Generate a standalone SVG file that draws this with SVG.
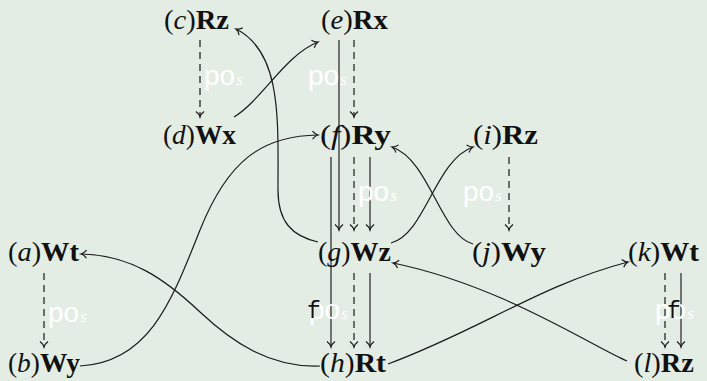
<svg xmlns="http://www.w3.org/2000/svg" width="707" height="381" viewBox="0 0 707 381">
<style>
.bg{fill:#e4ede4}
.n{font-family:"Liberation Serif",serif;font-size:28px;fill:#111}
.i{font-style:italic}
.b{font-weight:bold}
.e{fill:none;stroke:#1a1a1a;stroke-width:1.2}
.v{fill:none;stroke:#4a4a4a;stroke-width:1.5}
.d{fill:none;stroke:#1a1a1a;stroke-width:1.2;stroke-dasharray:7 5}
.po{font-family:"Liberation Sans",sans-serif;font-size:28px;fill:#fff}
.s{font-family:"Liberation Serif",serif;font-style:italic;font-size:17px;fill:#fff}
.f{font-family:"Liberation Mono",monospace;font-size:23px;fill:#111}
</style>
<defs>
<marker id="ah" markerUnits="userSpaceOnUse" markerWidth="12" markerHeight="12" viewBox="-7 -6 8 12" refX="0" refY="0" orient="auto">
<path d="M-5.5,-4 C-3.5,-1.5 -1.5,-0.4 0,0 C-1.5,0.4 -3.5,1.5 -5.5,4" fill="none" stroke="#1a1a1a" stroke-width="1.2"/>
</marker>
</defs>
<rect class="bg" x="0" y="0" width="707" height="381"/>
<g id="connectors">
<path class="d" d="M200,40 V117" marker-end="url(#ah)"/>
<path class="d" d="M354,40 V117" marker-end="url(#ah)"/>
<path class="v" d="M339,40 V230" marker-end="url(#ah)"/>
<path class="v" d="M331,157 V347" marker-end="url(#ah)"/>
<path class="d" d="M354,157 V230" marker-end="url(#ah)"/>
<path class="v" d="M370,157 V230" marker-end="url(#ah)"/>
<path class="d" d="M509,157 V230" marker-end="url(#ah)"/>
<path class="d" d="M354,273 V347" marker-end="url(#ah)"/>
<path class="v" d="M370,273 V347" marker-end="url(#ah)"/>
<path class="d" d="M44,273 V347" marker-end="url(#ah)"/>
<path class="d" d="M665,273 V347" marker-end="url(#ah)"/>
<path class="v" d="M681,273 V347" marker-end="url(#ah)"/>
<path class="e" d="M234,117 C262,100 285,55 318,42" marker-end="url(#ah)"/>
<path class="e" d="M318,242 C292,236 278,222 278,190 C278,120 282,52 236,29" marker-end="url(#ah)"/>
<path class="e" d="M80,366 C150,362 172,300 200,230 C228,160 262,136 318,135" marker-end="url(#ah)"/>
<path class="e" d="M320,366 C270,368 232,342 200,312 C164,278 130,255 81,254" marker-end="url(#ah)"/>
<path class="e" d="M473,244 C440,235 430,160 392,147" marker-end="url(#ah)"/>
<path class="e" d="M391,243 C425,235 435,160 473,147" marker-end="url(#ah)"/>
<path class="e" d="M627,361 C590,345 500,285 393,263" marker-end="url(#ah)"/>
<path class="e" d="M388,364 C480,330 540,285 628,262" marker-end="url(#ah)"/>
<text class="po" x="204" y="85">po<tspan class="s" dx="1">s</tspan></text>
<text class="po" x="308" y="85">po<tspan class="s" dx="1">s</tspan></text>
<text class="po" x="358" y="201">po<tspan class="s" dx="1">s</tspan></text>
<text class="po" x="463" y="201">po<tspan class="s" dx="1">s</tspan></text>
<text class="po" x="48" y="322">po<tspan class="s" dx="1">s</tspan></text>
<text class="po" x="309" y="319">po<tspan class="s" dx="1">s</tspan></text>
<text class="po" x="655" y="319">po<tspan class="s" dx="1">s</tspan></text>
<text class="f" x="307" y="318">f</text>
<text class="f" x="667" y="318">f</text>
</g>
<g id="node-c"><text class="n" x="164" y="29" textLength="65" lengthAdjust="spacingAndGlyphs">(<tspan class="i">c</tspan>)<tspan class="b">Rz</tspan></text></g>
<g id="node-e"><text class="n" x="321" y="29" textLength="67" lengthAdjust="spacingAndGlyphs">(<tspan class="i">e</tspan>)<tspan class="b">Rx</tspan></text></g>
<g id="node-d"><text class="n" x="163" y="144" textLength="73" lengthAdjust="spacingAndGlyphs">(<tspan class="i">d</tspan>)<tspan class="b">Wx</tspan></text></g>
<g id="node-f"><text class="n" x="320" y="144" textLength="71" lengthAdjust="spacingAndGlyphs">(<tspan class="i">f</tspan>)<tspan class="b">Ry</tspan></text></g>
<g id="node-i"><text class="n" x="473" y="144" textLength="65" lengthAdjust="spacingAndGlyphs">(<tspan class="i">i</tspan>)<tspan class="b">Rz</tspan></text></g>
<g id="node-a"><text class="n" x="8" y="261" textLength="71" lengthAdjust="spacingAndGlyphs">(<tspan class="i">a</tspan>)<tspan class="b">Wt</tspan></text></g>
<g id="node-g"><text class="n" x="318" y="261" textLength="73" lengthAdjust="spacingAndGlyphs">(<tspan class="i">g</tspan>)<tspan class="b">Wz</tspan></text></g>
<g id="node-j"><text class="n" x="472" y="261" textLength="74" lengthAdjust="spacingAndGlyphs">(<tspan class="i">j</tspan>)<tspan class="b">Wy</tspan></text></g>
<g id="node-k"><text class="n" x="628" y="261" textLength="71" lengthAdjust="spacingAndGlyphs">(<tspan class="i">k</tspan>)<tspan class="b">Wt</tspan></text></g>
<g id="node-b"><text class="n" x="8" y="372" textLength="72" lengthAdjust="spacingAndGlyphs">(<tspan class="i">b</tspan>)<tspan class="b">Wy</tspan></text></g>
<g id="node-h"><text class="n" x="320" y="372" textLength="66" lengthAdjust="spacingAndGlyphs">(<tspan class="i">h</tspan>)<tspan class="b">Rt</tspan></text></g>
<g id="node-l"><text class="n" x="634" y="372" textLength="60" lengthAdjust="spacingAndGlyphs">(<tspan class="i">l</tspan>)<tspan class="b">Rz</tspan></text></g>
</svg>
